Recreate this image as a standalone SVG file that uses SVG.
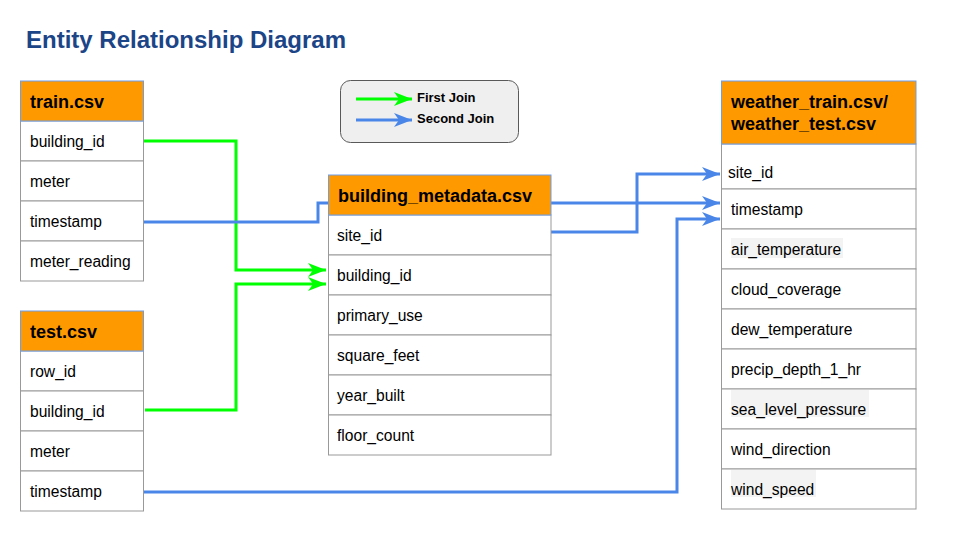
<svg xmlns="http://www.w3.org/2000/svg" width="960" height="540" viewBox="0 0 960 540">
<defs>
<style>
text{font-family:"Liberation Sans",Arial,sans-serif;fill:#000}
.title{font-size:24px;font-weight:bold;fill:#1c4587}
.hd{fill:#ff9900;stroke:#6d9eeb;stroke-width:1}
.hdt{font-size:18px;font-weight:bold}
.row{fill:#fff;stroke:#999;stroke-width:1}
.rt{font-size:15.6px}
.hl{fill:#f3f3f3}
.g{fill:none;stroke:#00ff00;stroke-width:3}
.b{fill:none;stroke:#4a86e8;stroke-width:3}
.lg{font-size:13px;font-weight:bold}
</style>
<marker id="ag" markerUnits="userSpaceOnUse" markerWidth="20" markerHeight="16" refX="18" refY="7" orient="auto">
<path d="M0,0 L18,7 L0,14 L5,7 z" fill="#00ff00"/>
</marker>
<marker id="ab" markerUnits="userSpaceOnUse" markerWidth="20" markerHeight="16" refX="18" refY="7" orient="auto">
<path d="M0,0 L18,7 L0,14 L5,7 z" fill="#4a86e8"/>
</marker>
</defs>
<rect width="960" height="540" fill="#fff"/>
<text class="title" x="26" y="48">Entity Relationship Diagram</text>

<g id="connectors">
<path class="g" d="M143,141 H236 V270 H326" marker-end="url(#ag)"/>
<path class="g" d="M145,410 H236 V284 H326" marker-end="url(#ag)"/>
<path class="b" d="M142,222 H318 V203 H720" marker-end="url(#ab)"/>
<path class="b" d="M551,232 H637 V174 H720" marker-end="url(#ab)"/>
<path class="b" d="M143,492 H677 V219 H720" marker-end="url(#ab)"/>
</g>

<g id="legend">
<rect x="340.5" y="80.5" width="178" height="62" rx="10" fill="#efefef" stroke="#595959" stroke-width="1"/>
<path class="g" d="M356,99 H412" marker-end="url(#ag)"/>
<path class="b" d="M356,120 H412" marker-end="url(#ab)"/>
<text class="lg" x="417" y="102">First Join</text>
<text class="lg" x="417" y="123">Second Join</text>
</g>

<g id="train">
<rect class="row" x="20.5" y="121" width="123" height="40"/>
<rect class="row" x="20.5" y="161" width="123" height="40"/>
<rect class="row" x="20.5" y="201" width="123" height="40"/>
<rect class="row" x="20.5" y="241" width="123" height="40"/>
<rect class="hd" x="20.5" y="81" width="123" height="40"/>
<text class="hdt" x="30" y="108">train.csv</text>
<text class="rt" x="30" y="146.5">building_id</text>
<text class="rt" x="30" y="186.5">meter</text>
<text class="rt" x="30" y="226.5">timestamp</text>
<text class="rt" x="30" y="266.5">meter_reading</text>
</g>

<g id="test">
<rect class="row" x="20.5" y="351" width="123" height="40"/>
<rect class="row" x="20.5" y="391" width="123" height="40"/>
<rect class="row" x="20.5" y="431" width="123" height="40"/>
<rect class="row" x="20.5" y="471" width="123" height="40"/>
<rect class="hd" x="20.5" y="311" width="123" height="40"/>
<text class="hdt" x="30" y="338">test.csv</text>
<text class="rt" x="30" y="376.5">row_id</text>
<text class="rt" x="30" y="416.5">building_id</text>
<text class="rt" x="30" y="456.5">meter</text>
<text class="rt" x="30" y="496.5">timestamp</text>
</g>

<g id="building_metadata">
<rect class="row" x="328.5" y="215" width="222.5" height="40"/>
<rect class="row" x="328.5" y="255" width="222.5" height="40"/>
<rect class="row" x="328.5" y="295" width="222.5" height="40"/>
<rect class="row" x="328.5" y="335" width="222.5" height="40"/>
<rect class="row" x="328.5" y="375" width="222.5" height="40"/>
<rect class="row" x="328.5" y="415" width="222.5" height="40"/>
<rect class="hd" x="328.5" y="175" width="222.5" height="40"/>
<text class="hdt" x="338" y="202">building_metadata.csv</text>
<text class="rt" x="337" y="240.5">site_id</text>
<text class="rt" x="337" y="280.5">building_id</text>
<text class="rt" x="337" y="320.5">primary_use</text>
<text class="rt" x="337" y="360.5">square_feet</text>
<text class="rt" x="337" y="400.5">year_built</text>
<text class="rt" x="337" y="440.5">floor_count</text>
</g>

<g id="weather">
<rect class="row" x="721.5" y="144" width="194.5" height="45"/>
<rect class="row" x="721.5" y="189" width="194.5" height="40"/>
<rect class="row" x="721.5" y="229" width="194.5" height="40"/>
<rect class="row" x="721.5" y="269" width="194.5" height="40"/>
<rect class="row" x="721.5" y="309" width="194.5" height="40"/>
<rect class="row" x="721.5" y="349" width="194.5" height="40"/>
<rect class="row" x="721.5" y="389" width="194.5" height="40"/>
<rect class="row" x="721.5" y="429" width="194.5" height="40"/>
<rect class="row" x="721.5" y="469" width="194.5" height="40"/>
<rect class="hd" x="721.5" y="81" width="194.5" height="63"/>
<text class="hdt" x="731" y="108">weather_train.csv/</text>
<text class="hdt" x="731" y="130">weather_test.csv</text>
<rect class="hl" x="731" y="238" width="112" height="20"/>
<rect class="hl" x="731" y="390" width="138" height="27"/>
<rect class="hl" x="731" y="470" width="85" height="27"/>
<text class="rt" x="728" y="178">site_id</text>
<text class="rt" x="731" y="215">timestamp</text>
<text class="rt" x="731" y="255">air_temperature</text>
<text class="rt" x="731" y="295">cloud_coverage</text>
<text class="rt" x="731" y="335">dew_temperature</text>
<text class="rt" x="731" y="375">precip_depth_1_hr</text>
<text class="rt" x="731" y="415">sea_level_pressure</text>
<text class="rt" x="731" y="455">wind_direction</text>
<text class="rt" x="731" y="495">wind_speed</text>
</g>
</svg>
